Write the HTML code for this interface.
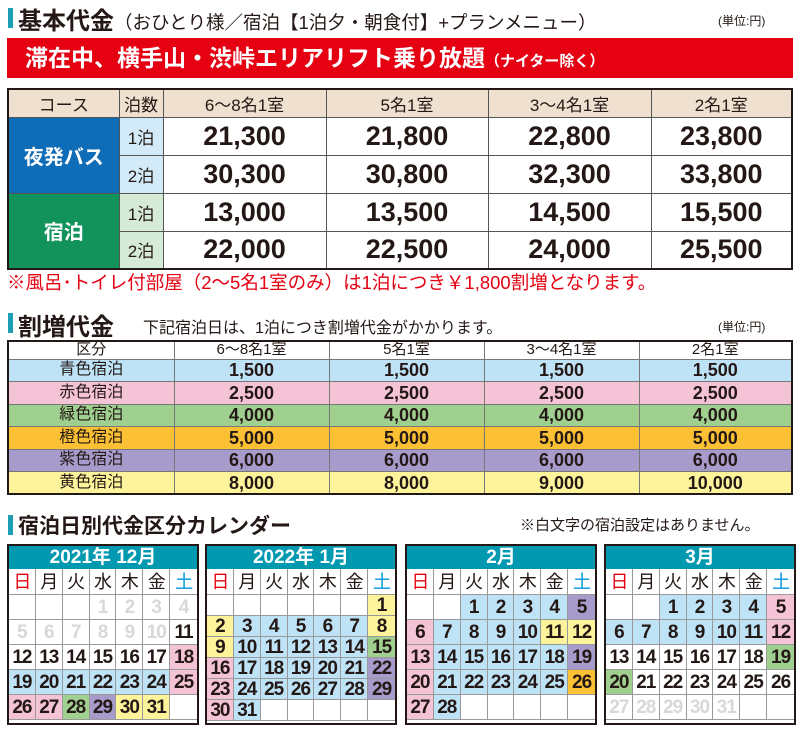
<!DOCTYPE html><html><head><meta charset="utf-8"><style>
*{margin:0;padding:0;box-sizing:border-box}
body{width:800px;height:730px;background:#fff;position:relative;overflow:hidden;font-family:"Liberation Sans","Noto Sans CJK JP",sans-serif;color:#231815}
.a{position:absolute;white-space:nowrap}
.bar{position:absolute;width:5px;background:#1a9fb5}
table{border-collapse:collapse;position:absolute;table-layout:fixed}
td{text-align:center;overflow:hidden;white-space:nowrap}
#t1{left:7px;top:88px;width:786px;border:2px solid #231815}
#t1 td{border:1px solid #555;height:38px;font-size:27px;font-weight:bold}
#t1 tr.h td{background:#efe0cf;font-size:17px;font-weight:normal;height:28px}
#t2{left:7px;top:340px;width:786px;border:2px solid #231815}
#t2 td{border:1px solid #777;height:22.5px;line-height:20px;font-size:18px;font-weight:bold;padding:0}
#t2 td:first-child{font-weight:normal;font-size:16px}
#t2 tr.h td{font-weight:normal;font-size:15px;height:18px;line-height:16px}
.cal{position:absolute;top:544px;width:192px;height:181px;border:2px solid #231815;background:#fff}
.ch{height:23px;background:#0099b0;color:#fff;font-weight:bold;font-size:19px;text-align:center;line-height:23px}
.g{display:grid;grid-template-columns:repeat(7,1fr)}
.g div{border-right:1px solid #999;border-bottom:1px solid #999;text-align:center;font-weight:bold;font-size:19px;letter-spacing:-1px;overflow:hidden}
.g div:nth-child(7n){border-right:none}
.dw div{font-weight:normal;font-size:18px;height:26px;line-height:26px}
.c{background:#bfe3f6}.p{background:#f5c3d6}.gr{background:#9fd08f}.v{background:#a79bcb}.y{background:#fdf39a}.o{background:#fbc034}.x{color:#d8d8d8}
</style></head><body>
<div class="bar" style="left:8px;top:8px;height:20px"></div>
<div class="a" style="left:18px;top:1px;font-size:24px;font-weight:bold">基本代金<span style="font-size:18.5px;font-weight:normal">（おひとり様／宿泊【1泊夕・朝食付】+プランメニュー）</span></div>
<div class="a" style="left:718px;top:12px;font-size:12px">(単位:円)</div>
<div class="a" style="left:7px;top:38px;width:786px;height:40px;background:#e50012;color:#fff;font-weight:bold;font-size:23px;line-height:40px;padding-left:18px">滞在中、横手山・渋峠エリアリフト乗り放題<span style="font-size:15px">（ナイター除く）</span></div>
<table id="t1"><colgroup><col style="width:111px"><col style="width:44px"><col style="width:163px"><col style="width:162px"><col style="width:163px"><col></colgroup>
<tr class="h"><td>コース</td><td>泊数</td><td>6～8名1室</td><td>5名1室</td><td>3～4名1室</td><td>2名1室</td></tr>
<tr><td rowspan="2" style="background:#0f6cb6;color:#fff;font-size:20px">夜発バス</td><td style="background:#d3ebf8;font-size:17px;font-weight:normal">1泊</td><td>21,300</td><td>21,800</td><td>22,800</td><td>23,800</td></tr>
<tr><td style="background:#d3ebf8;font-size:17px;font-weight:normal">2泊</td><td>30,300</td><td>30,800</td><td>32,300</td><td>33,800</td></tr>
<tr><td rowspan="2" style="background:#12935c;color:#fff;font-size:20px">宿泊</td><td style="background:#d5ead7;font-size:17px;font-weight:normal">1泊</td><td>13,000</td><td>13,500</td><td>14,500</td><td>15,500</td></tr>
<tr><td style="background:#d5ead7;font-size:17px;font-weight:normal">2泊</td><td>22,000</td><td>22,500</td><td>24,000</td><td>25,500</td></tr>
</table>
<div class="a" style="left:7px;top:269px;font-size:18.5px;color:#e50012">※風呂･トイレ付部屋（2～5名1室のみ）は1泊につき￥1,800割増となります。</div>
<div class="bar" style="left:8px;top:313px;height:20px"></div>
<div class="a" style="left:18px;top:307px;font-size:24px;font-weight:bold">割増代金</div>
<div class="a" style="left:143px;top:314px;font-size:16px">下記宿泊日は、1泊につき割増代金がかかります。</div>
<div class="a" style="left:718px;top:318px;font-size:12px">(単位:円)</div>
<table id="t2"><colgroup><col style="width:166px"><col style="width:155px"><col style="width:155px"><col style="width:155px"><col></colgroup>
<tr class="h"><td>区分</td><td>6～8名1室</td><td>5名1室</td><td>3～4名1室</td><td>2名1室</td></tr>
<tr class="c"><td>青色宿泊</td><td>1,500</td><td>1,500</td><td>1,500</td><td>1,500</td></tr>
<tr class="p"><td>赤色宿泊</td><td>2,500</td><td>2,500</td><td>2,500</td><td>2,500</td></tr>
<tr class="gr"><td>緑色宿泊</td><td>4,000</td><td>4,000</td><td>4,000</td><td>4,000</td></tr>
<tr class="o"><td>橙色宿泊</td><td>5,000</td><td>5,000</td><td>5,000</td><td>5,000</td></tr>
<tr class="v"><td>紫色宿泊</td><td>6,000</td><td>6,000</td><td>6,000</td><td>6,000</td></tr>
<tr class="y"><td>黄色宿泊</td><td>8,000</td><td>8,000</td><td>9,000</td><td>10,000</td></tr>
</table>
<div class="bar" style="left:8px;top:515px;height:20px"></div>
<div class="a" style="left:18px;top:510px;font-size:21px;font-weight:bold">宿泊日別代金区分カレンダー</div>
<div class="a" style="left:520px;top:514px;font-size:15px">※白文字の宿泊設定はありません。</div>

<div class="cal" style="left:7px"><div class="ch">2021年 12月</div>
<div class="g dw"><div style="color:#e50012">日</div><div>月</div><div>火</div><div>水</div><div>木</div><div>金</div><div style="color:#0096e0">土</div></div>
<div class="g" style="grid-auto-rows:25px;line-height:25px">
<div></div><div></div><div></div><div class="x">1</div><div class="x">2</div><div class="x">3</div><div class="x">4</div>
<div class="x">5</div><div class="x">6</div><div class="x">7</div><div class="x">8</div><div class="x">9</div><div class="x">10</div><div>11</div>
<div>12</div><div>13</div><div>14</div><div>15</div><div>16</div><div>17</div><div class="p">18</div>
<div class="c">19</div><div class="c">20</div><div class="c">21</div><div class="c">22</div><div class="c">23</div><div class="c">24</div><div class="p">25</div>
<div class="p">26</div><div class="p">27</div><div class="gr">28</div><div class="v">29</div><div class="y">30</div><div class="y">31</div><div></div>
</div></div>

<div class="cal" style="left:205px"><div class="ch">2022年 1月</div>
<div class="g dw"><div style="color:#e50012">日</div><div>月</div><div>火</div><div>水</div><div>木</div><div>金</div><div style="color:#0096e0">土</div></div>
<div class="g" style="grid-auto-rows:21px;line-height:21px">
<div></div><div></div><div></div><div></div><div></div><div></div><div class="y">1</div>
<div class="y">2</div><div class="c">3</div><div class="c">4</div><div class="c">5</div><div class="c">6</div><div class="c">7</div><div class="y">8</div>
<div class="y">9</div><div class="c">10</div><div class="c">11</div><div class="c">12</div><div class="c">13</div><div class="c">14</div><div class="gr">15</div>
<div class="p">16</div><div class="c">17</div><div class="c">18</div><div class="c">19</div><div class="c">20</div><div class="c">21</div><div class="v">22</div>
<div class="p">23</div><div class="c">24</div><div class="c">25</div><div class="c">26</div><div class="c">27</div><div class="c">28</div><div class="v">29</div>
<div class="p">30</div><div class="c">31</div><div></div><div></div><div></div><div></div><div></div>
</div></div>

<div class="cal" style="left:405px"><div class="ch">2月</div>
<div class="g dw"><div style="color:#e50012">日</div><div>月</div><div>火</div><div>水</div><div>木</div><div>金</div><div style="color:#0096e0">土</div></div>
<div class="g" style="grid-auto-rows:25px;line-height:25px">
<div></div><div></div><div class="c">1</div><div class="c">2</div><div class="c">3</div><div class="c">4</div><div class="v">5</div>
<div class="p">6</div><div class="c">7</div><div class="c">8</div><div class="c">9</div><div class="c">10</div><div class="y">11</div><div class="y">12</div>
<div class="p">13</div><div class="c">14</div><div class="c">15</div><div class="c">16</div><div class="c">17</div><div class="c">18</div><div class="v">19</div>
<div class="p">20</div><div class="c">21</div><div class="c">22</div><div class="c">23</div><div class="c">24</div><div class="c">25</div><div class="o">26</div>
<div class="p">27</div><div class="c">28</div><div></div><div></div><div></div><div></div><div></div>
</div></div>

<div class="cal" style="left:604px"><div class="ch">3月</div>
<div class="g dw"><div style="color:#e50012">日</div><div>月</div><div>火</div><div>水</div><div>木</div><div>金</div><div style="color:#0096e0">土</div></div>
<div class="g" style="grid-auto-rows:25px;line-height:25px">
<div></div><div></div><div class="c">1</div><div class="c">2</div><div class="c">3</div><div class="c">4</div><div class="p">5</div>
<div class="c">6</div><div class="c">7</div><div class="c">8</div><div class="c">9</div><div class="c">10</div><div class="c">11</div><div class="p">12</div>
<div>13</div><div>14</div><div>15</div><div>16</div><div>17</div><div>18</div><div class="gr">19</div>
<div class="gr">20</div><div>21</div><div>22</div><div>23</div><div>24</div><div>25</div><div>26</div>
<div class="x">27</div><div class="x">28</div><div class="x">29</div><div class="x">30</div><div class="x">31</div><div></div><div></div>
</div></div>
</body></html>
